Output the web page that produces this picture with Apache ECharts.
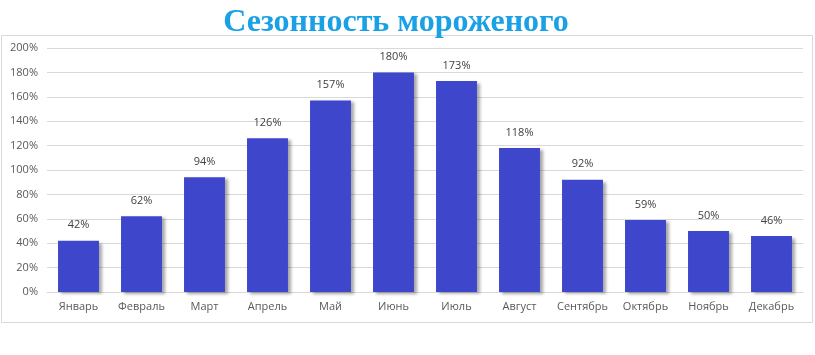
<!DOCTYPE html>
<html><head><meta charset="utf-8">
<script src="https://cdn.jsdelivr.net/npm/echarts@6/dist/echarts.min.js"></script>
<style>html,body{margin:0;padding:0;background:#fff}#c{width:815px;height:355px}</style>
</head><body><div id="c"></div>
<script>
const months = ['Январь','Февраль','Март','Апрель','Май','Июнь','Июль','Август','Сентябрь','Октябрь','Ноябрь','Декабрь'];
const values = [42,62,94,126,157,180,173,118,92,59,50,46];
const titleText = 'Сезонность мороженого';
const chart = echarts.init(document.getElementById('c'));
chart.setOption({
  animation:false,
  title:{text:titleText,left:391,textAlign:'center',top:2,
    textStyle:{fontFamily:'Liberation Serif',fontWeight:'bold',fontSize:32,color:'#1aa0e4'}},
  graphic:[{type:'rect',shape:{x:1.5,y:35.5,width:811,height:287},style:{fill:'none',stroke:'#d9d9d9',lineWidth:1},silent:true,z:-1}],
  grid:{left:47,right:12,top:48,bottom:63},
  xAxis:{type:'category',data:months,
    axisLine:{lineStyle:{color:'#d9d9d9'}},axisTick:{show:false},
    axisLabel:{color:'#595959',fontFamily:'Open Sans',fontSize:11,margin:9,interval:0}},
  yAxis:{type:'value',min:0,max:200,interval:20,
    axisLine:{show:false},axisTick:{show:false},
    splitLine:{lineStyle:{color:'#d9d9d9'}},
    axisLabel:{color:'#595959',fontFamily:'Open Sans',fontSize:11,formatter:v=>v+'%',margin:9}},
  series:[{type:'bar',data:values,barWidth:'65%',
    itemStyle:{color:'#3e47cb',shadowColor:'rgba(0,0,0,0.35)',shadowBlur:3,shadowOffsetX:3,shadowOffsetY:2},
    label:{show:true,position:'top',distance:10,formatter:p=>p.value+'%',color:'#404040',fontFamily:'Open Sans',fontSize:11}}]
});
</script></body></html>
